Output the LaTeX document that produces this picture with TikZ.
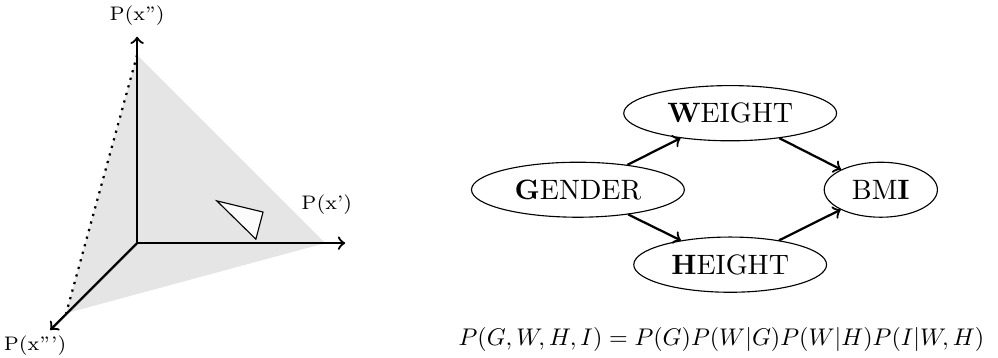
\documentclass[tikz,border=0pt]{standalone}
\usepackage{tikz}
\usetikzlibrary{shapes.geometric}
\begin{document}
\begin{tikzpicture}[>=to]
  \useasboundingbox (0,0) rectangle (12.52,4.49);
  % simplex
  \coordinate (O) at (1.72,1.44);
  \coordinate (ax1) at (4.33,1.44);
  \coordinate (ax2) at (1.72,4.03);
  \coordinate (ax3) at (0.63,0.35);
  \coordinate (v1) at (4.08,1.44);
  \coordinate (v2) at (1.72,3.80);
  \coordinate (v3) at (0.83,0.56);
  \fill[gray!20] (v1) -- (v2) -- (v3) -- cycle;
  \draw[thick,dotted] (v2) -- (v3);
  \draw[fill=white!98!gray] (2.72,1.97) -- (3.30,1.83) -- (3.21,1.49) -- cycle;
  \draw[thick,->] (O) -- (ax1);
  \draw[thick,->] (O) -- (ax2);
  \draw[thick,->] (O) -- (ax3);
  \node[font=\scriptsize] (l1) at (4.10,1.92) {P(x')};
  \node[font=\scriptsize] (l2) at (1.72,4.30) {P(x'')};
  \node[font=\scriptsize] (l3) at (0.44,0.16) {P(x''')};
  % network
  \node[draw,ellipse,minimum width=2.67cm,minimum height=0.69cm] (g) at (7.25,2.11) {\textbf{G}ENDER};
  \node[draw,ellipse,minimum width=2.67cm,minimum height=0.69cm] (w) at (9.16,3.07) {\textbf{W}EIGHT};
  \node[draw,ellipse,minimum height=0.69cm] (h) at (9.16,1.17) {\textbf{H}EIGHT};
  \node[draw,ellipse,minimum width=1.42cm,minimum height=0.69cm] (b) at (11.05,2.11) {BM\textbf{I}};
  \draw[thick,->] (g) -- (w);
  \draw[thick,->] (g) -- (h);
  \draw[thick,->] (w) -- (b);
  \draw[thick,->] (h) -- (b);
  \node[scale=0.86] (eq) at (9.05,0.23) {$P(G,W,H,I) = P(G)P(W|G)P(W|H)P(I|W,H)$};
\end{tikzpicture}
\end{document}
